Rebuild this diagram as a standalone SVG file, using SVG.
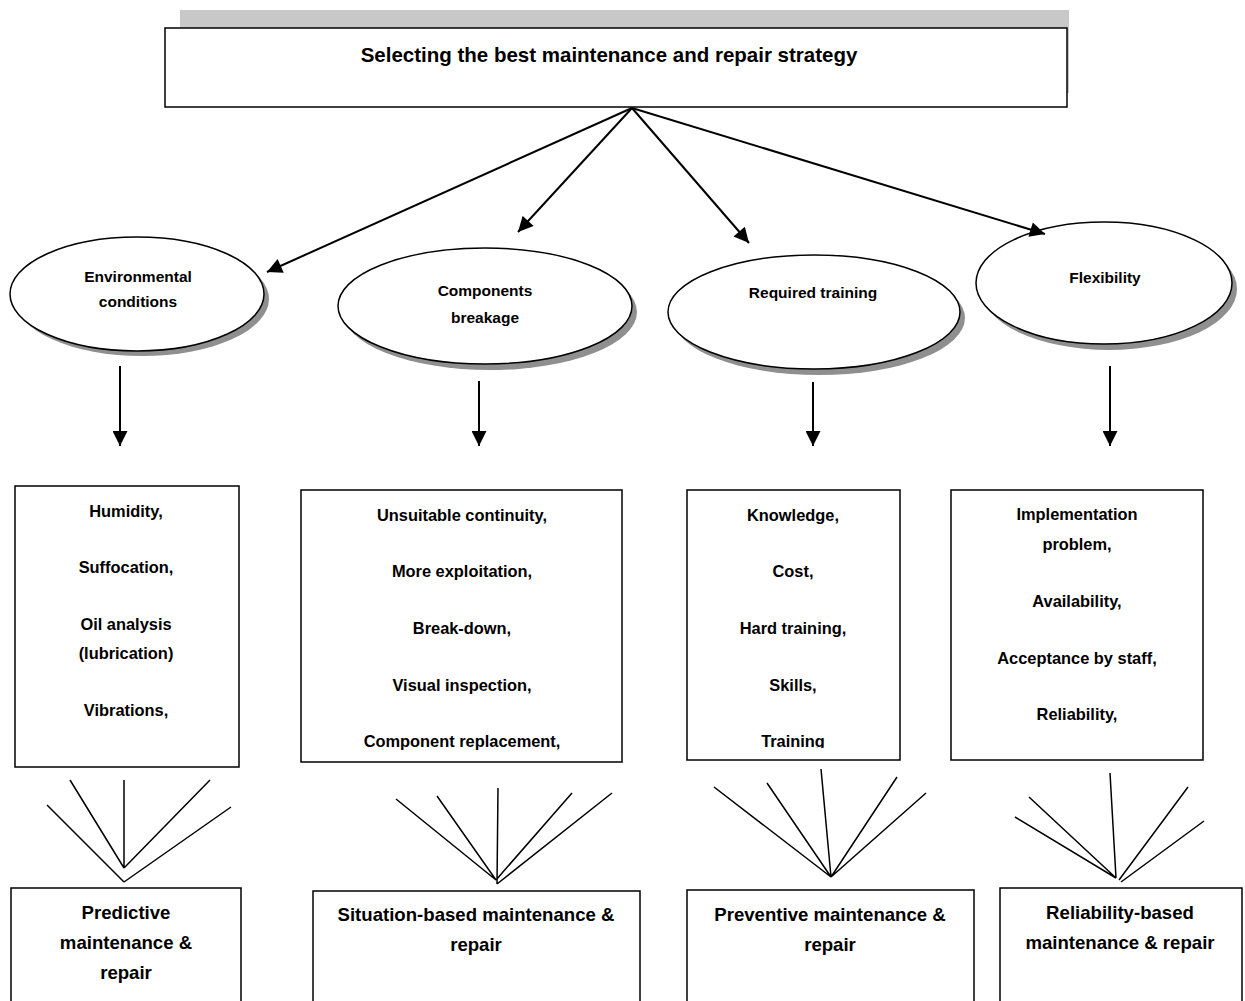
<svg xmlns="http://www.w3.org/2000/svg" width="1245" height="1001" viewBox="0 0 1245 1001">
<style>
  .box { fill: #fff; stroke: #000; stroke-width: 1.5; }
  .ell { fill: #fff; stroke: #000; stroke-width: 1.5; }
  .shadow { fill: #8f8f8f; }
  .t { font-family: "Liberation Sans", Arial, sans-serif; font-weight: bold; fill: #000; text-anchor: middle; }
  .title { font-size: 20.5px; }
  .et { font-size: 15.5px; }
  .mt { font-size: 16.4px; }
  .bt { font-size: 18.6px; }
  .conn { stroke: #000; stroke-width: 2; fill: none; }
  .fan { stroke: #000; stroke-width: 1.5; fill: none; }
</style>
<defs>
  <marker id="ah" viewBox="0 0 10 10" refX="10" refY="5" markerWidth="8" markerHeight="7.5" markerUnits="strokeWidth" orient="auto">
    <path d="M0,0 L10,5 L0,10 Z" fill="#000"/>
  </marker>
  <clipPath id="clip3"><rect x="687" y="490" width="213" height="258"/></clipPath>
</defs>
<rect width="1245" height="1001" fill="#fff"/>

<g id="title">
  <rect x="180" y="10" width="889" height="83" fill="#c8c8c8"/>
  <rect class="box" x="165" y="28" width="902" height="79"/>
  <text class="t title" x="609" y="62">Selecting the best maintenance and repair strategy</text>
</g>

<g id="env">
  <ellipse class="shadow" cx="142" cy="299" rx="127" ry="57"/>
  <ellipse class="ell" cx="137" cy="294" rx="127" ry="57"/>
  <text class="t et" x="138" y="282">Environmental</text>
  <text class="t et" x="138" y="307">conditions</text>
</g>
<g id="comp">
  <ellipse class="shadow" cx="490" cy="312" rx="147" ry="58"/>
  <ellipse class="ell" cx="485" cy="306" rx="147" ry="58"/>
  <text class="t et" x="485" y="296">Components</text>
  <text class="t et" x="485" y="323">breakage</text>
</g>
<g id="train">
  <ellipse class="shadow" cx="819" cy="318" rx="146" ry="57"/>
  <ellipse class="ell" cx="814" cy="312" rx="146" ry="57"/>
  <text class="t et" x="813" y="298">Required training</text>
</g>
<g id="flex">
  <ellipse class="shadow" cx="1109" cy="289" rx="128" ry="61"/>
  <ellipse class="ell" cx="1104" cy="283" rx="128" ry="61"/>
  <text class="t et" x="1105" y="283">Flexibility</text>
</g>

<g id="list1">
  <rect class="box" x="15" y="486" width="224" height="281"/>
  <text class="t mt" x="126" y="517">Humidity,</text>
  <text class="t mt" x="126" y="573">Suffocation,</text>
  <text class="t mt" x="126" y="630">Oil analysis</text>
  <text class="t mt" x="126" y="659">(lubrication)</text>
  <text class="t mt" x="126" y="716">Vibrations,</text>
</g>
<g id="list2">
  <rect class="box" x="301" y="490" width="321" height="272"/>
  <text class="t mt" x="462" y="521">Unsuitable continuity,</text>
  <text class="t mt" x="462" y="577">More exploitation,</text>
  <text class="t mt" x="462" y="634">Break-down,</text>
  <text class="t mt" x="462" y="691">Visual inspection,</text>
  <text class="t mt" x="462" y="747">Component replacement,</text>
</g>
<g id="list3">
  <rect class="box" x="687" y="490" width="213" height="270"/>
  <text class="t mt" x="793" y="521">Knowledge,</text>
  <text class="t mt" x="793" y="577">Cost,</text>
  <text class="t mt" x="793" y="634">Hard training,</text>
  <text class="t mt" x="793" y="691">Skills,</text>
  <text class="t mt" x="793" y="747" clip-path="url(#clip3)">Training</text>
</g>
<g id="list4">
  <rect class="box" x="951" y="490" width="252" height="270"/>
  <text class="t mt" x="1077" y="520">Implementation</text>
  <text class="t mt" x="1077" y="550">problem,</text>
  <text class="t mt" x="1077" y="607">Availability,</text>
  <text class="t mt" x="1077" y="664">Acceptance by staff,</text>
  <text class="t mt" x="1077" y="720">Reliability,</text>
</g>

<g id="strat1">
  <rect class="box" x="11" y="888" width="230" height="130"/>
  <text class="t bt" x="126" y="919">Predictive</text>
  <text class="t bt" x="126" y="949">maintenance &amp;</text>
  <text class="t bt" x="126" y="979">repair</text>
</g>
<g id="strat2">
  <rect class="box" x="313" y="891" width="327" height="130"/>
  <text class="t bt" x="476" y="921">Situation-based maintenance &amp;</text>
  <text class="t bt" x="476" y="951">repair</text>
</g>
<g id="strat3">
  <rect class="box" x="687" y="890" width="287" height="130"/>
  <text class="t bt" x="830" y="921">Preventive maintenance &amp;</text>
  <text class="t bt" x="830" y="951">repair</text>
</g>
<g id="strat4">
  <rect class="box" x="1000" y="888" width="242" height="130"/>
  <text class="t bt" x="1120" y="919">Reliability-based</text>
  <text class="t bt" x="1120" y="949">maintenance &amp; repair</text>
</g>

<g id="connectors">
  <line class="conn" x1="632" y1="108" x2="267" y2="272" marker-end="url(#ah)"/>
  <line class="conn" x1="632" y1="108" x2="518" y2="232" marker-end="url(#ah)"/>
  <line class="conn" x1="632" y1="108" x2="749" y2="243" marker-end="url(#ah)"/>
  <line class="conn" x1="632" y1="108" x2="1045" y2="234" marker-end="url(#ah)"/>

  <line class="conn" x1="120" y1="366" x2="120" y2="446" marker-end="url(#ah)"/>
  <line class="conn" x1="479" y1="381" x2="479" y2="446" marker-end="url(#ah)"/>
  <line class="conn" x1="813" y1="382" x2="813" y2="446" marker-end="url(#ah)"/>
  <line class="conn" x1="1110" y1="366" x2="1110" y2="446" marker-end="url(#ah)"/>

  <path class="fan" d="M47,805 L124,882 M70,780 L124,868 M124,780 L124,868 M210,780 L124,868 M231,807 L124,882"/>
  <path class="fan" d="M396,799 L496,880 M437,796 L496,880 M498,788 L497,884 M572,793 L496,880 M612,793 L497,884"/>
  <path class="fan" d="M714,787 L831,877 M767,783 L831,877 M821,769 L831,877 M897,777 L831,877 M926,793 L831,877"/>
  <path class="fan" d="M1015,817 L1116,878 M1029,797 L1116,878 M1110,773 L1116,878 M1188,787 L1119,880 M1204,821 L1121,882"/>
</g>
</svg>
